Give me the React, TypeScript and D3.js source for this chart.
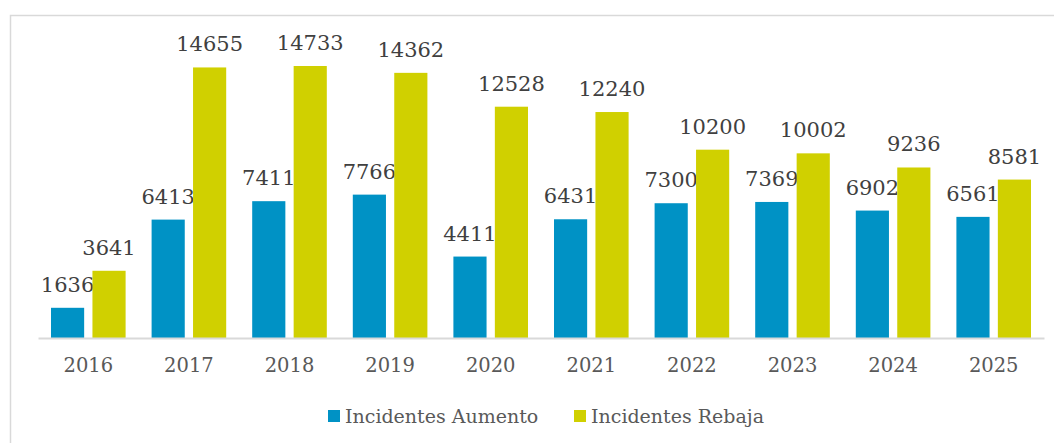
import React, { useEffect, useRef } from "react";
import * as d3 from "d3";

const years = ["2016", "2017", "2018", "2019", "2020", "2021", "2022", "2023", "2024", "2025"];
const aumento = [1636, 6413, 7411, 7766, 4411, 6431, 7300, 7369, 6902, 6561];
const rebaja = [3641, 14655, 14733, 14362, 12528, 12240, 10200, 10002, 9236, 8581];
const seriesNames = ["Incidentes Aumento", "Incidentes Rebaja"];
const colors = ["#0092c5", "#d0d000"];

const W = 1054;
const H = 443;

export default function App() {
  const ref = useRef<SVGSVGElement>(null);

  useEffect(() => {
    const svg = d3.select(ref.current);
    svg.selectAll("*").remove();

    const margin = { left: 38, right: 10, baseline: 338 };

    // frame
    svg.append("rect")
      .attr("x", 10.5).attr("y", 15.5)
      .attr("width", W + 20).attr("height", H + 20)
      .attr("fill", "white").attr("stroke", "#d9d9d9").attr("stroke-width", 1.5);

    const x = d3.scaleBand().domain(years).range([margin.left, W - margin.right]).paddingInner(0).paddingOuter(0);
    const inner = d3.scaleBand().domain(["0", "1"]).range([13, x.bandwidth() - 13]).paddingInner(0.2);
    const y = d3.scaleLinear().domain([0, 14733]).range([margin.baseline, 66]);

    const data = years.map((yr, i) => ({ yr, vals: [aumento[i], rebaja[i]] }));

    const g = svg.append("g");
    data.forEach(d => {
      d.vals.forEach((v, k) => {
        const bx = x(d.yr)! + inner(String(k))!;
        g.append("rect")
          .attr("x", bx).attr("y", y(v))
          .attr("width", inner.bandwidth()).attr("height", margin.baseline - y(v))
          .attr("fill", colors[k]);
        g.append("text")
          .attr("x", bx + inner.bandwidth() / 2)
          .attr("y", y(v) - 16)
          .attr("text-anchor", "middle")
          .attr("font-family", "DejaVu Serif")
          .attr("font-size", 21)
          .attr("fill", "#404040")
          .text(String(v));
      });
    });

    // axis
    const axis = svg.append("g").attr("transform", `translate(0,${margin.baseline})`)
      .call(d3.axisBottom(x).tickSize(0).tickPadding(20));
    axis.select(".domain").attr("stroke", "#d9d9d9").attr("stroke-width", 2);
    axis.selectAll("text")
      .attr("font-family", "DejaVu Serif")
      .attr("font-size", 19.5)
      .attr("fill", "#595959");

    // legend
    const leg = svg.append("g").attr("transform", "translate(328,410)");
    const offsets = [0, 246];
    seriesNames.forEach((name, k) => {
      const lg = leg.append("g").attr("transform", `translate(${offsets[k]},0)`);
      lg.append("rect").attr("width", 12).attr("height", 12).attr("fill", colors[k]);
      lg.append("text")
        .attr("x", 17).attr("y", 13)
        .attr("font-family", "DejaVu Serif")
        .attr("font-size", 19)
        .attr("fill", "#595959")
        .text(name);
    });
  }, []);

  return (
    <div style={{ position: "fixed", left: 0, top: 0, width: W, height: H, background: "white" }}>
      <svg ref={ref} width={W} height={H} />
    </div>
  );
}
